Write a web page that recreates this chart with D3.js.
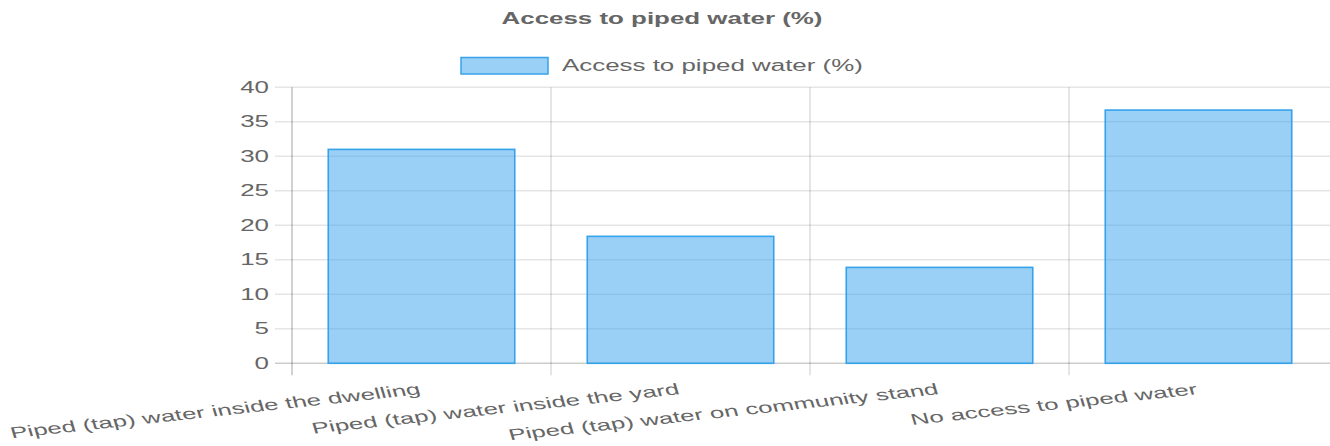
<!DOCTYPE html>
<html>
<head>
<meta charset="utf-8">
<script src="https://cdn.jsdelivr.net/npm/d3@7"></script>
<style>
  body { margin: 0; background: #fff; }
  text { font-family: "Liberation Sans", Arial, sans-serif; fill: #666; }
</style>
</head>
<body>
<svg width="1330" height="446"></svg>
<script>
// chart data
var title = "Access to piped water (%)";
var seriesName = "Access to piped water (%)";
var categories = [
  "Piped (tap) water inside the dwelling",
  "Piped (tap) water inside the yard",
  "Piped (tap) water on community stand",
  "No access to piped water"
];
var values = [31.0, 18.4, 13.9, 36.7];
var yTicks = [0, 5, 10, 15, 20, 25, 30, 35, 40];

// the picture is stretched, so text is wider than it is tall
var kx = 2.16, ky = 1.3;
var fs = 12 * ky;
var sx = kx / ky;

var svg = d3.select("svg");

var plot = { left: 292, right: 1328, top: 87.3, bottom: 363.3 };

var x = d3.scaleBand().domain(categories).range([plot.left, plot.right]);
var y = d3.scaleLinear().domain([0, 40]).range([plot.bottom, plot.top]);

var g = {
  grid: svg.append("g").attr("id", "grid"),
  bars: svg.append("g").attr("id", "bars"),
  axes: svg.append("g").attr("id", "axes"),
  legend: svg.append("g").attr("id", "legend")
};

function translate(x, y) {
  return "translate(" + String(x) + "," + String(y) + ")";
}

// title
svg.append("text")
  .attr("transform", translate(662, 24) + " scale(" + sx + ",1)")
  .attr("text-anchor", "middle")
  .style("font-size", fs + "px")
  .style("font-weight", "bold")
  .text(title);

// legend
g.legend.append("rect")
  .attr("x", 461).attr("y", 57.5)
  .attr("width", 87).attr("height", 16.5)
  .attr("fill", "rgba(54,162,235,0.5)")
  .attr("stroke", "rgb(54,162,235)")
  .attr("stroke-width", 1.5);

g.legend.append("text")
  .attr("transform", translate(562, 71) + " scale(" + sx + ",1)")
  .style("font-size", fs + "px")
  .text(seriesName);

// horizontal grid lines + y ticks
g.grid.selectAll("line.h")
  .data(yTicks)
  .enter()
  .append("line")
  .attr("class", "h")
  .attr("x1", plot.left - 17)
  .attr("x2", plot.right + 2)
  .attr("y1", function(d) { return y(d); })
  .attr("y2", function(d) { return y(d); })
  .attr("stroke", function(d) { return d === 0 ? "rgba(0,0,0,0.2)" : "rgba(0,0,0,0.1)"; })
  .attr("stroke-width", 1.4);

// vertical grid lines at category edges
var edges = categories.map(function(c) { return x(c); });
g.grid.selectAll("line.v")
  .data(edges)
  .enter()
  .append("line")
  .attr("class", "v")
  .attr("x1", function(d) { return d; })
  .attr("x2", function(d) { return d; })
  .attr("y1", plot.top)
  .attr("y2", plot.bottom + 12)
  .attr("stroke", function(d, i) { return i === 0 ? "rgba(0,0,0,0.18)" : "rgba(0,0,0,0.1)"; })
  .attr("stroke-width", 2);

g.axes.selectAll("text.ytick")
  .data(yTicks)
  .enter()
  .append("text")
  .attr("class", "ytick")
  .attr("transform", function(d) { return translate(269, y(d) + 5.5) + " scale(" + sx + ",1)"; })
  .attr("text-anchor", "end")
  .style("font-size", fs + "px")
  .text(function(d) { return d; });

// bars
var barW = x.bandwidth() * 0.72;
g.bars.selectAll("rect")
  .data(values)
  .enter()
  .append("rect")
  .attr("x", function(d, i) { return x(categories[i]) + (x.bandwidth() - barW) / 2; })
  .attr("y", function(d) { return y(d); })
  .attr("width", barW)
  .attr("height", function(d) { return y(0) - y(d); })
  .attr("fill", "rgba(54,162,235,0.5)")
  .attr("stroke", "rgb(54,162,235)")
  .attr("stroke-width", 1.6);

// rotated category labels, end anchored at the tick
var slope = 0.108;
var angle = Math.atan(slope * kx / ky) * 180 / Math.PI;
g.axes.selectAll("text.xtick")
  .data(categories)
  .enter()
  .append("text")
  .attr("class", "xtick")
  .attr("transform", function(d) {
    return translate(x(d) + x.bandwidth() / 2, 394) + " scale(" + kx + "," + ky + ") rotate(" + (-angle) + ")";
  })
  .attr("text-anchor", "end")
  .style("font-size", "12px")
  .text(function(d) { return d; });
</script>
</body>
</html>
